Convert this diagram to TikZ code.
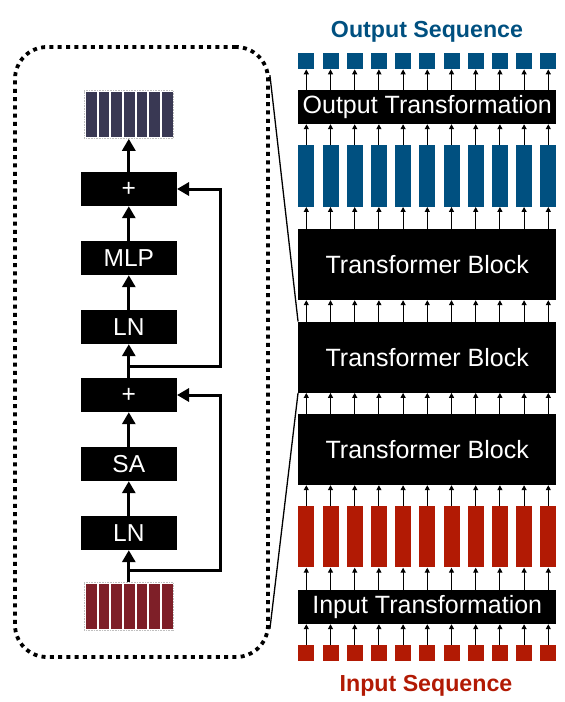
\documentclass[tikz,border=0pt]{standalone}
\usepackage{fontspec}
\setmainfont{Liberation Sans}
\usetikzlibrary{arrows.meta,calc}
\definecolor{seqblue}{RGB}{0,80,128}
\definecolor{seqred}{RGB}{178,26,4}
\definecolor{navybar}{RGB}{57,56,83}
\definecolor{maroonbar}{RGB}{126,31,40}
\begin{document}
\begin{tikzpicture}[x=1pt,y=-1pt,
  blk/.style={fill=black,text=white,inner sep=0pt,minimum width=96pt,minimum height=34pt,font=\fontsize{24.5}{28}\selectfont},
  wideblk/.style={fill=black,text=white,inner sep=0pt,minimum width=258pt,font=\fontsize{25}{30}\selectfont},
  bigarr/.style={line width=3pt,line join=miter,-{Triangle[length=12pt,width=13pt]}},
  sarr/.style={line width=1.1pt,-{Triangle[length=5pt,width=5pt]}},
  grp/.style={draw=gray!50,densely dotted,line width=0.6pt,fill=white,inner sep=0pt,minimum width=89pt,minimum height=48pt},
  lbar/.style={inner sep=0pt,minimum width=10.7pt,minimum height=45pt},
  sq/.style={inner sep=0pt,minimum width=16pt,minimum height=16.3pt},
  tallbar/.style={inner sep=0pt,minimum width=16pt,minimum height=61.5pt},
  title/.style={font=\bfseries\fontsize{23.2}{27}\selectfont}
]
\useasboundingbox (0,0) rectangle (565,702);

% ---------- zoom box ----------
\node[draw,line width=3.8pt,dash pattern=on 4pt off 4.3pt,rounded corners=32pt,
      minimum width=253pt,minimum height=610pt,inner sep=0pt] (zbox) at (141.5,352) {};

% ---------- left detail ----------
\node[grp] (topgrp) at (128.8,114.5) {};
\foreach \k in {0,...,6}{
  \node[lbar,fill=navybar] at (91.35+12.67*\k,114.5) {};
}
\node[grp] (botgrp) at (128.8,606.7) {};
\foreach \k in {0,...,6}{
  \node[lbar,fill=maroonbar] at (91.35+12.67*\k,606.7) {};
}
\node[blk] (plus2) at (128.8,189) {+};
\node[blk] (mlp)   at (128.8,258) {MLP};
\node[blk] (ln2)   at (128.8,327) {LN};
\node[blk] (plus1) at (128.8,395) {+};
\node[blk] (sa)    at (128.8,464) {SA};
\node[blk] (ln1)   at (128.8,533) {LN};

\draw[bigarr] (botgrp.north) -- (ln1.south);
\draw[bigarr] (ln1.north) -- (sa.south);
\draw[bigarr] (sa.north) -- (plus1.south);
\draw[bigarr] (plus1.north) -- (ln2.south);
\draw[bigarr] (ln2.north) -- (mlp.south);
\draw[bigarr] (mlp.north) -- (plus2.south);
\draw[bigarr] (plus2.north) -- (topgrp.south);

\coordinate (s1) at (128.8,570.7);
\coordinate (s2) at (128.8,366);
\draw[bigarr] (s1) -- (220,570.7) -- (220,395) -- (plus1.east);
\draw[bigarr] (s2) -- (220,366) -- (220,189) -- (plus2.east);

% ---------- right stack ----------
\node[wideblk,minimum height=34pt] (ot)  at (427.25,107) {Output Transformation};
\node[wideblk,minimum height=71pt] (tb1) at (427.25,264.5) {Transformer Block};
\node[wideblk,minimum height=71pt] (tb2) at (427.25,357.2) {Transformer Block};
\node[wideblk,minimum height=71pt] (tb3) at (427.25,449.5) {Transformer Block};
\node[wideblk,minimum height=34pt] (it)  at (427.25,607) {Input Transformation};

\foreach \i in {0,...,10}{
  \node[sq,fill=seqblue] (os\i) at (306.3+24.2*\i,61) {};
  \node[tallbar,fill=seqblue] (bb\i) at (306.3+24.2*\i,176) {};
  \node[tallbar,fill=seqred] (rb\i) at (306.3+24.2*\i,536.7) {};
  \node[sq,fill=seqred] (is\i) at (306.3+24.2*\i,653) {};
  \draw[sarr] (is\i.north) -- (is\i.north |- it.south);
  \draw[sarr] (rb\i.south |- it.north) -- (rb\i.south);
  \draw[sarr] (rb\i.north) -- (rb\i.north |- tb3.south);
  \draw[sarr] (rb\i.north |- tb3.north) -- (rb\i.north |- tb2.south);
  \draw[sarr] (rb\i.north |- tb2.north) -- (rb\i.north |- tb1.south);
  \draw[sarr] (bb\i.south |- tb1.north) -- (bb\i.south);
  \draw[sarr] (bb\i.north) -- (bb\i.north |- ot.south);
  \draw[sarr] (os\i.south |- ot.north) -- (os\i.south);
}

\node[title,text=seqblue] (otitle) at (427,32) {Output Sequence};
\node[title,text=seqred] (ititle) at (426,686) {Input Sequence};

% ---------- zoom connectors ----------
\draw[line width=1.3pt] ($(zbox.north east)+(0,30)$) -- (tb2.north west);
\draw[line width=1.3pt] ($(zbox.south east)+(0,-30)$) -- (tb2.south west);
\end{tikzpicture}
\end{document}
